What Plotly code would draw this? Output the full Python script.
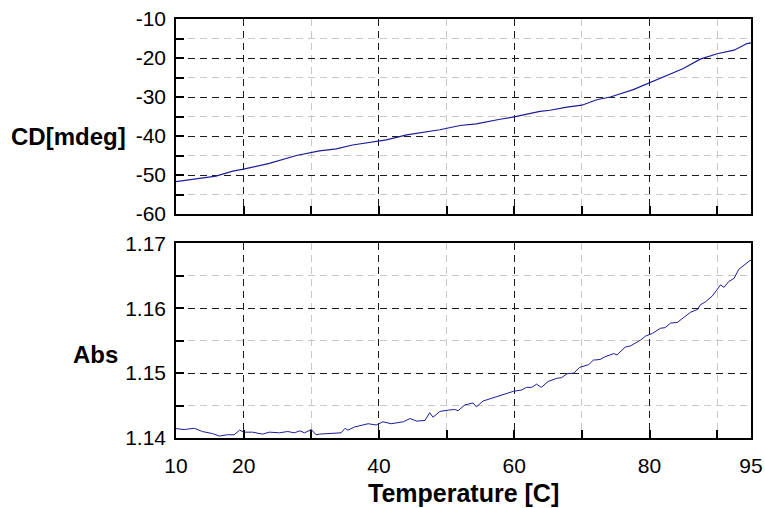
import plotly.graph_objects as go

# CD curve (top panel)
cd_temp = [10, 13.4, 15.9, 18.4, 20, 23.8, 27.8, 31.2, 33.7, 36.1, 38.1, 41.1, 44.1, 49, 52,
           54.4, 57.9, 60, 63.8, 65.3, 67.8, 70, 72.2, 74.2, 77.6, 80, 82.6, 85, 87.5, 90,
           92.5, 94.4, 95]
cd_vals = [-51.7, -51.0, -50.3, -49.0, -48.5, -47.0, -45.0, -43.8, -43.3, -42.3, -41.8, -41.0,
           -39.7, -38.4, -37.3, -36.9, -35.7, -35.1, -33.7, -33.4, -32.6, -32.1, -30.7, -30.0,
           -28.1, -26.4, -24.5, -22.7, -20.3, -18.9, -18.0, -16.3, -16.1]

# Absorbance curve (bottom panel)
abs_temp = [10, 11.2, 12.7, 13.9, 15.4, 16.4, 17.6, 18.6, 19.4, 20.1, 21.3, 22.8, 23.8, 25.3,
            26.5, 27.5, 28.3, 29, 30, 30.7, 31.2, 32.4, 33.4, 34.4, 35, 35.4, 36.4, 37.4, 38.4,
            39.6, 40.6, 41.8, 43.6, 44.6, 45.6, 46.8, 47.5, 48, 49, 50.3, 51.2, 51.7, 52.7,
            53.9, 54.4, 55.4, 56.9, 58.4, 59.9, 61.1, 61.8, 62.6, 63.3, 64, 65, 66.3, 67, 67.8,
            68.8, 69.7, 71, 71.7, 72.7, 73.4, 74.7, 75.2, 76.4, 77.2, 77.9, 78.7, 79.4, 80.4,
            81.6, 82.3, 83.1, 84.1, 85.1, 86.1, 87.1, 87.5, 88.3, 89.3, 90.5, 91, 91.7, 92.5,
            93.2, 94, 94.8, 95]
abs_vals = [1.14145, 1.1413, 1.1415, 1.1410, 1.14068, 1.1403, 1.1405, 1.1405, 1.1412, 1.1409,
            1.1409, 1.1406, 1.1409, 1.1408, 1.1410, 1.1408, 1.1411, 1.1408, 1.1413, 1.1405,
            1.1406, 1.1407, 1.1408, 1.1408, 1.1415, 1.1412, 1.1417, 1.1419, 1.1422, 1.1420,
            1.1425, 1.1422, 1.1425, 1.1430, 1.1426, 1.1427, 1.1439, 1.1432, 1.1441, 1.1443,
            1.1444, 1.1442, 1.1451, 1.1454, 1.1448, 1.1457, 1.1462, 1.1466, 1.1472, 1.1474,
            1.1478, 1.1478, 1.1483, 1.1478, 1.1487, 1.1492, 1.1493, 1.1499, 1.1500, 1.1509,
            1.1513, 1.1520, 1.1521, 1.1525, 1.1530, 1.1528, 1.1540, 1.1542, 1.1546, 1.1551,
            1.1557, 1.1561, 1.1569, 1.1570, 1.1577, 1.1578, 1.1586, 1.1594, 1.1598, 1.1605,
            1.1610, 1.1619, 1.1636, 1.1632, 1.1641, 1.1646, 1.1660, 1.1667, 1.1673, 1.1674]

x_ticks = [10, 20, 40, 60, 80, 95]
x_minor = [30, 50, 70, 90]
cd_ticks = [-60, -50, -40, -30, -20, -10]
cd_tick_text = ["-60", "-50", "-40", "-30", "-20", "-10"]
cd_minor = [-55, -45, -35, -25, -15]
abs_ticks = [1.14, 1.15, 1.16, 1.17]
abs_minor = [1.145, 1.155, 1.165]
abs_tick_text = ["1.14", "1.15", "1.16", "1.17"]

LINE = "#1c1c96"
FONT = "Liberation Sans, Arial, sans-serif"
DARK = "#1a1a1a"
LIGHT = "#c8c8c8"
DASH = "7px,5px"

fig = go.Figure()
fig.add_trace(go.Scatter(x=cd_temp, y=cd_vals, mode="lines", line=dict(color=LINE, width=1.2),
                         xaxis="x2", yaxis="y2", showlegend=False))
fig.add_trace(go.Scatter(x=abs_temp, y=abs_vals, mode="lines", line=dict(color=LINE, width=1),
                         xaxis="x", yaxis="y", showlegend=False))


def minor(vals):
    return dict(tickmode="array", tickvals=vals, ticks="inside", ticklen=8, tickwidth=1.5,
                tickcolor="black", showgrid=True, gridcolor=LIGHT, griddash=DASH, gridwidth=1)


def xax(show_labels, anchor):
    return dict(
        range=[10, 95], anchor=anchor, tickmode="array", tickvals=x_ticks, automargin=False,
        showticklabels=show_labels, ticks="inside", ticklen=8, tickwidth=1.5, tickcolor="black",
        showline=True, linecolor="black", linewidth=1.5, mirror=True,
        showgrid=True, gridcolor=DARK, griddash=DASH, gridwidth=1,
        zeroline=False, tickfont=dict(family=FONT, size=21, color="black"),
        ticklabelstandoff=8, minor=minor(x_minor),
    )


def yax(domain, rng, anchor, vals, text, mvals):
    return dict(
        domain=domain, range=rng, anchor=anchor, tickmode="array", tickvals=vals, ticktext=text,
        automargin=False, ticks="inside", ticklen=8, tickwidth=1.5, tickcolor="black",
        showline=True, linecolor="black", linewidth=1.5, mirror=True,
        showgrid=True, gridcolor=DARK, griddash=DASH, gridwidth=1, zeroline=False,
        tickfont=dict(family=FONT, size=21, color="black"), ticklabelstandoff=4,
        minor=minor(mvals),
    )


fig.update_layout(
    width=765, height=508,
    margin=dict(l=176, r=14, t=19, b=70),
    paper_bgcolor="white", plot_bgcolor="white",
    xaxis=xax(True, "y"),
    xaxis2=xax(False, "y2"),
    yaxis=yax([0, 0.4647], [1.14, 1.17], "x", abs_ticks, abs_tick_text, abs_minor),
    yaxis2=yax([0.5346, 1], [-60, -10], "x2", cd_ticks, cd_tick_text, cd_minor),
    annotations=[
        dict(text="<b>CD[mdeg]</b>", xref="paper", yref="y2", x=-0.0835, y=-40,
             xanchor="right", yanchor="middle", showarrow=False,
             font=dict(family=FONT, size=24, color="black")),
        dict(text="<b>Abs</b>", xref="paper", yref="y", x=-0.0974, y=1.1528,
             xanchor="right", yanchor="middle", showarrow=False,
             font=dict(family=FONT, size=24, color="black")),
        dict(text="<b>Temperature [C]</b>", xref="paper", yref="paper", x=0.5, y=-0.131,
             xanchor="center", yanchor="middle", showarrow=False,
             font=dict(family=FONT, size=25, color="black")),
    ],
)

fig.write_html("out.html")
